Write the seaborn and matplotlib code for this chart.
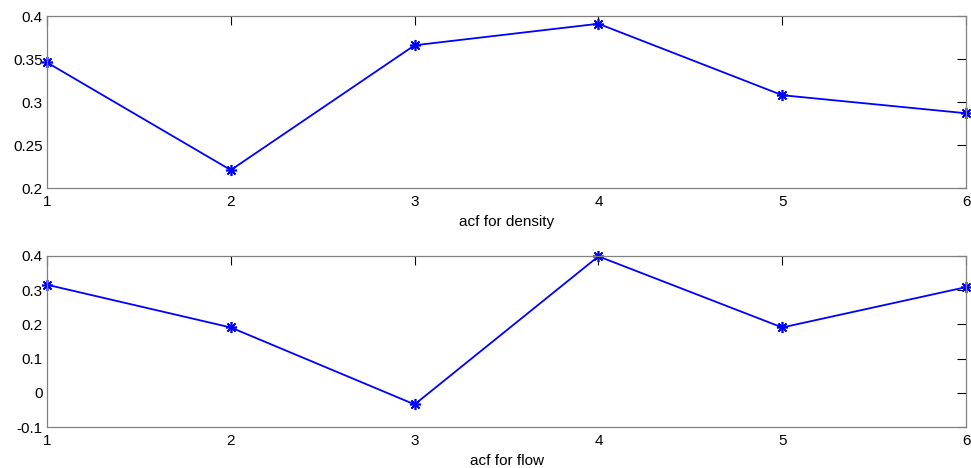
import matplotlib
matplotlib.use("Agg")
import matplotlib.pyplot as plt
from matplotlib.ticker import FuncFormatter
import seaborn as sns
import pandas as pd

# lags and autocorrelation values
lags = [1, 2, 3, 4, 5, 6]
acf_density = [0.346, 0.221, 0.366, 0.391, 0.308, 0.287]
acf_flow = [0.316, 0.191, -0.034, 0.399, 0.191, 0.309]

density_ticks = [0.2, 0.25, 0.3, 0.35, 0.4]
flow_ticks = [-0.1, 0, 0.1, 0.2, 0.3, 0.4]

sns.set_style("white")
plt.rcParams["font.family"] = ["Liberation Sans", "DejaVu Sans"]
plt.rcParams["font.size"] = 11

df = pd.DataFrame({"lag": lags, "density": acf_density, "flow": acf_flow})

fig = plt.figure(figsize=(9.71, 4.68), dpi=100)
ax1 = fig.add_axes([0.0484, 0.598, 0.9465, 0.3678])
ax2 = fig.add_axes([0.0484, 0.0876, 0.9465, 0.3654])


def style_axes(ax, yticks, label):
    ax.set_xlim(1, 6)
    ax.set_ylim(yticks[0], yticks[-1])
    ax.set_xticks(lags)
    ax.set_yticks(yticks)
    ax.yaxis.set_major_formatter(FuncFormatter(lambda v, p: f"{v:g}"))
    ax.xaxis.set_major_formatter(FuncFormatter(lambda v, p: f"{v:g}"))
    ax.tick_params(direction="in", length=6.5, width=0.8, color="black",
                   top=True, right=True, labelsize=11, labelcolor="black", pad=3)
    ax.tick_params(axis="x", pad=5)
    for s in ax.spines.values():
        s.set_color("#808080")
        s.set_linewidth(0.9)
    ax.set_xlabel(label, fontsize=11, labelpad=4, color="black")
    ax.set_ylabel("")


sns.lineplot(data=df, x="lag", y="density", ax=ax1, color="#0000ff",
             linewidth=1.3, marker=(8, 2, 0), markersize=8,
             markeredgecolor="#0000ff", markeredgewidth=1.2)
style_axes(ax1, density_ticks, "acf for density")

sns.lineplot(data=df, x="lag", y="flow", ax=ax2, color="#0000ff",
             linewidth=1.3, marker=(8, 2, 0), markersize=8,
             markeredgecolor="#0000ff", markeredgewidth=1.2)
style_axes(ax2, flow_ticks, "acf for flow")

for ax in (ax1, ax2):
    for line in ax.lines:
        line.set_clip_on(False)

fig.savefig("out.png", dpi=100)
